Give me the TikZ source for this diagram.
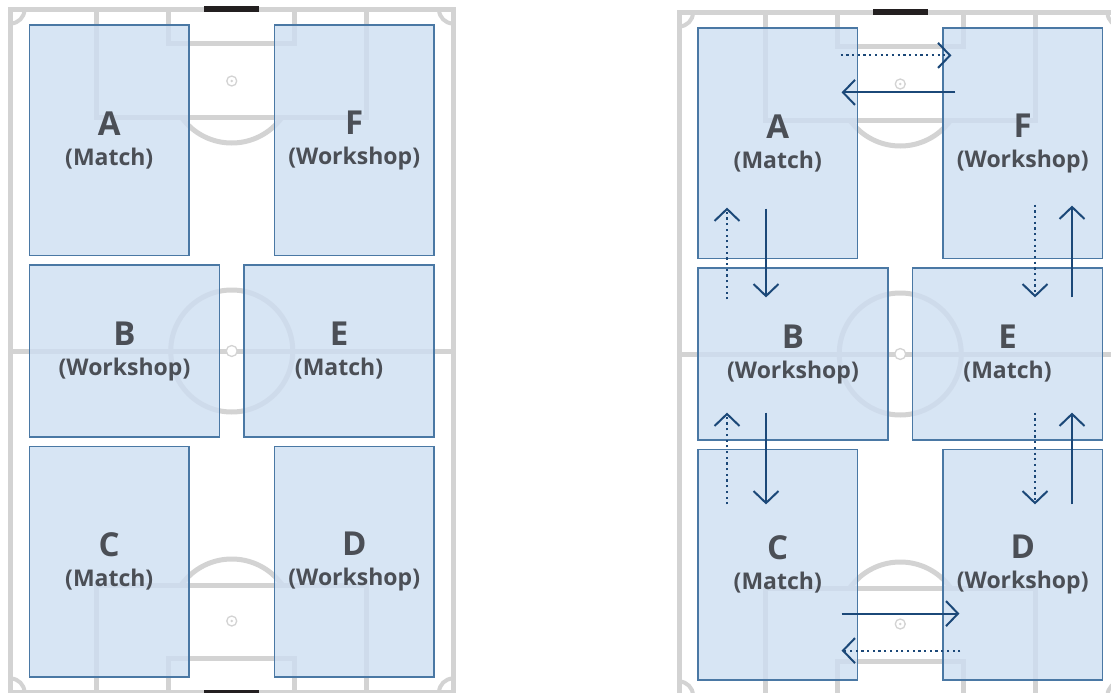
\documentclass[tikz,border=0pt]{standalone}
\usepackage{fontspec}
\setmainfont{Open Sans}
\usetikzlibrary{%
  positioning,
  calc,
  arrows.meta,
}
\definecolor{pitchgray}{HTML}{D3D3D3}
\definecolor{goalblack}{HTML}{231F20}
\definecolor{zoneblue}{HTML}{CDDEF1}
\definecolor{zoneedge}{HTML}{4A78A4}
\definecolor{labelgray}{HTML}{4B4F56}
\definecolor{flownavy}{HTML}{1B4878}

\begin{document}
\begin{tikzpicture}[%
           x=1pt, y=-1pt,
           marking/.style={
             % The colour of the pitch lines:
             draw=pitchgray,
             % The width:
             line width=5pt,
           },
           spot/.style={
             draw=pitchgray,
             line width=1.3pt,
             fill=white,
           },
           zone/.style={
             % The shape:
             rectangle,
             inner sep=0pt,
             % The border:
             draw=zoneedge,
             line width=1.2pt,
             % The filling, the pitch lines shine through:
             fill=zoneblue,
             fill opacity=0.8,
             text opacity=1,
             % The text:
             text=labelgray,
             align=center,
             font=\fontsize{23}{30}\selectfont\bfseries,
           },
           flow/.style={
             -{Straight Barb[length=12pt, width=25pt]},
             line width=2pt,
             draw=flownavy,
           },
           back/.style={
             flow,
             dash pattern=on 2.2pt off 3.5pt,
           }]

         \useasboundingbox (0,0) rectangle (1111,693);
         \clip (0,0) rectangle (1111,693);

         \foreach \p/\dx/\dy in {1/0/0, 2/668.5/3} {
           \begin{scope}[shift={(\dx,\dy)}]
             % The pitch:
             \draw[marking] (10.5,9.5) rectangle (453,692.5);
             \draw[marking] (10.5,351) -- (453,351);
             \draw[marking] (231.75,351) circle (61);
             \draw[marking] (96.75,9.5) |- (366.75,117) -- (366.75,9.5);
             \draw[marking] (168.75,9.5) |- (294.75,44) -- (294.75,9.5);
             \draw[marking] (96.75,692.5) |- (366.75,585) -- (366.75,692.5);
             \draw[marking] (168.75,692.5) |- (294.75,658) -- (294.75,692.5);
             \begin{scope}
               \clip (0,117) rectangle (460,585);
               \draw[marking] (231.75,81) circle (62);
               \draw[marking] (231.75,621) circle (62);
             \end{scope}
             \begin{scope}
               \clip (10.5,9.5) rectangle (453,692.5);
               \foreach \cx/\cy in {10.5/9.5, 453/9.5, 10.5/692.5, 453/692.5}
                 \draw[marking, line width=4pt] (\cx,\cy) circle (14);
             \end{scope}
             \draw[spot] (231.75,351) circle (5.5);
             \foreach \sy in {81, 621} {
               \draw[spot] (231.75,\sy) circle (5);
               \fill[pitchgray] (231.75,\sy) circle (1.3);
             }
             \fill[goalblack] (204.25,6) rectangle (259.25,12.5);
             \fill[goalblack] (204.25,689.5) rectangle (259.25,696);

             % The zones:
             \foreach \n/\kind/\cx/\cy/\w/\h in {%
                 A/Match/109.25/140.25/159.5/230.5,
                 F/Workshop/354.25/140.25/159.5/230.5,
                 B/Workshop/124.5/351/190/172,
                 E/Match/339/351/190/172,
                 C/Match/109.25/561.75/159.5/230.5,
                 D/Workshop/354.25/561.75/159.5/230.5}
               \node[zone, minimum width=\w pt, minimum height=\h pt] (\n\p)
                 at (\cx,\cy) {{\fontsize{33}{30}\selectfont\n}\\(\kind)};
           \end{scope}
         }

         % The rotation on the second pitch:
         \draw[back] ($ (A2.north east) + (-17.5,28) $) -- ($ (F2.north west) + (9,28) $);
         \draw[flow] ($ (F2.north west) + (13,65) $) -- ($ (A2.north east) + (-16.5,65) $);
         \draw[flow] ($ (A2.south) + (-11.75,-50.5) $) -- ($ (B2.north) + (-27,30) $);
         \draw[back] ($ (B2.north) + (-66,32) $) -- ($ (A2.south) + (-50.75,-51.5) $);
         \draw[back] ($ (F2.south) + (12.25,-54.5) $) -- ($ (E2.north) + (27.5,30) $);
         \draw[flow] ($ (E2.north) + (64.5,30) $) -- ($ (F2.south) + (49.25,-53.5) $);
         \draw[flow] ($ (B2.south) + (-27,-28) $) -- ($ (C2.north) + (-11.75,55.5) $);
         \draw[back] ($ (C2.north) + (-50.75,55.5) $) -- ($ (B2.south) + (-66,-28) $);
         \draw[back] ($ (E2.south) + (27.5,-28) $) -- ($ (D2.north) + (12.25,55.5) $);
         \draw[flow] ($ (D2.north) + (49.25,55.5) $) -- ($ (E2.south) + (64.5,-28) $);
         \draw[flow] ($ (C2.south east) + (-16.5,-67) $) -- ($ (D2.south west) + (17,-67) $);
         \draw[back] ($ (D2.south west) + (18,-30) $) -- ($ (C2.south east) + (-16.5,-30) $);

     \end{tikzpicture}
\end{document}
